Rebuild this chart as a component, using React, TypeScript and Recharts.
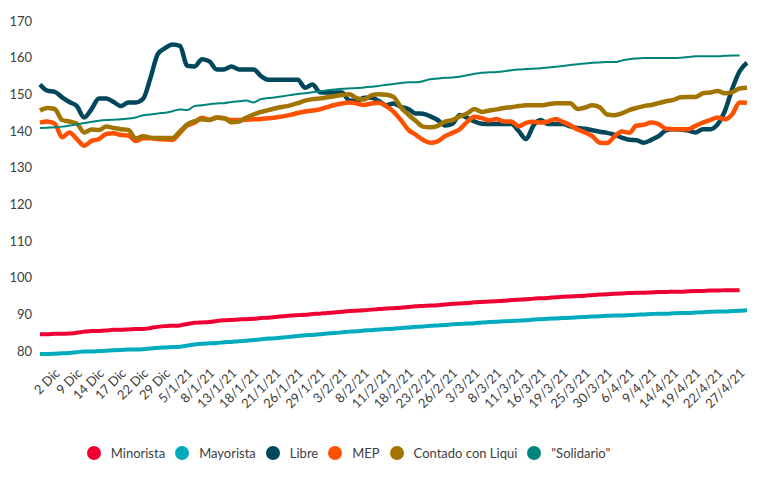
import React from 'react';
import { LineChart, Line, XAxis, YAxis, Legend } from 'recharts';

// etiquetas del eje X (una cada tres ruedas)
const tickLabels = [
	'2 Dic', '9 Dic', '14 Dic', '17 Dic', '22 Dic', '29 Dic', '5/1/21', '8/1/21',
	'13/1/21', '18/1/21', '21/1/21', '26/1/21', '29/1/21', '3/2/21', '8/2/21', '11/2/21',
	'18/2/21', '23/2/21', '26/2/21', '3/3/21', '8/3/21', '11/3/21', '16/3/21', '19/3/21',
	'25/3/21', '30/3/21', '6/4/21', '9/4/21', '14/4/21', '19/4/21', '22/4/21', '27/4/21',
];

const yTicks = [80, 90, 100, 110, 120, 130, 140, 150, 160, 170];

const minorista = [
	84.6, 84.6, 84.7, 84.7, 84.8, 85.0, 85.3, 85.5, 85.5, 85.6,
	85.8, 85.8, 85.9, 86.0, 86.0, 86.3, 86.6, 86.8, 86.9, 87.0,
	87.4, 87.7, 87.8, 87.9, 88.2, 88.4, 88.5, 88.6, 88.7, 88.8,
	89.0, 89.1, 89.3, 89.5, 89.7, 89.8, 89.9, 90.1, 90.2, 90.4,
	90.5, 90.7, 90.9, 91.0, 91.1, 91.3, 91.5, 91.6, 91.7, 91.8,
	92.0, 92.2, 92.3, 92.4, 92.5, 92.7, 92.9, 93.0, 93.1, 93.3,
	93.4, 93.5, 93.6, 93.7, 93.9, 94.0, 94.1, 94.3, 94.4, 94.5,
	94.7, 94.8, 94.9, 95.0, 95.1, 95.3, 95.4, 95.5, 95.6, 95.7,
	95.8, 95.9, 95.9, 96.0, 96.1, 96.1, 96.2, 96.2, 96.3, 96.4,
	96.4, 96.5, 96.5, 96.6, 96.6, 96.6, null,
];

const mayorista = [
	79.2, 79.2, 79.3, 79.4, 79.5, 79.7, 79.9, 79.9, 80.0, 80.1,
	80.2, 80.3, 80.4, 80.4, 80.5, 80.7, 80.9, 81.0, 81.1, 81.2,
	81.5, 81.8, 82.0, 82.1, 82.2, 82.4, 82.5, 82.7, 82.8, 83.0,
	83.2, 83.4, 83.5, 83.7, 83.9, 84.1, 84.3, 84.4, 84.6, 84.8,
	84.9, 85.1, 85.3, 85.4, 85.6, 85.7, 85.9, 86.0, 86.1, 86.3,
	86.4, 86.6, 86.7, 86.9, 87.0, 87.1, 87.3, 87.4, 87.5, 87.6,
	87.8, 87.9, 88.0, 88.1, 88.2, 88.3, 88.4, 88.6, 88.7, 88.8,
	88.9, 89.0, 89.1, 89.2, 89.3, 89.4, 89.5, 89.6, 89.7, 89.7,
	89.8, 89.9, 90.0, 90.1, 90.2, 90.2, 90.3, 90.4, 90.4, 90.5,
	90.6, 90.7, 90.8, 90.8, 90.9, 91.0, 91.1,
];

const libre = [
	152.7, 151.0, 150.7, 149.2, 147.9, 146.8, 143.7, 146.0, 148.9, 148.9,
	147.9, 146.8, 147.8, 147.8, 148.8, 154.5, 161.0, 162.6, 163.6, 163.2,
	157.8, 157.6, 159.6, 159.0, 156.8, 156.8, 157.6, 156.8, 156.8, 156.8,
	155.0, 154.0, 154.0, 154.0, 154.0, 154.0, 151.8, 152.7, 150.6, 150.5,
	150.5, 150.5, 148.3, 148.2, 149.1, 149.1, 148.2, 147.0, 147.5, 146.6,
	146.0, 144.8, 144.7, 144.0, 143.0, 141.5, 142.0, 144.4, 143.6, 142.6,
	142.0, 141.9, 141.9, 141.9, 141.9, 140.0, 137.8, 141.5, 143.0, 141.9,
	141.9, 141.9, 141.3, 140.8, 140.6, 140.2, 139.8, 139.5, 139.0, 138.2,
	137.6, 137.5, 136.8, 137.6, 138.6, 140.2, 140.5, 140.4, 140.1, 139.6,
	140.5, 140.5, 141.8, 145.5, 151.5, 156.3, 158.6,
];

const mep = [
	142.3, 142.6, 142.0, 138.3, 139.6, 137.8, 136.0, 137.3, 137.8, 139.2,
	139.4, 138.9, 138.8, 137.3, 138.0, 138.0, 137.8, 137.7, 137.6, 139.5,
	141.5, 142.3, 143.6, 143.1, 143.7, 143.5, 143.0, 143.0, 143.1, 143.2,
	143.3, 143.5, 143.7, 144.0, 144.4, 144.9, 145.3, 145.6, 145.9, 146.5,
	147.1, 147.5, 147.8, 147.5, 147.1, 147.5, 147.7, 146.8, 145.3, 143.0,
	140.4, 139.0, 137.6, 136.8, 137.2, 138.6, 139.5, 140.5, 142.5, 143.9,
	143.5, 142.9, 143.3, 142.6, 142.6, 141.3, 142.2, 142.5, 142.3, 142.6,
	143.3, 142.5, 141.6, 140.4, 139.6, 138.6, 136.8, 136.7, 138.5, 139.9,
	139.5, 141.5, 141.7, 142.3, 141.9, 140.6, 140.5, 140.5, 140.5, 141.4,
	142.3, 143.0, 143.7, 143.2, 144.6, 147.8, 147.7,
];

const contado = [
	145.6, 146.3, 146.0, 143.0, 142.6, 142.0, 139.6, 140.4, 140.3, 141.2,
	140.8, 140.5, 140.3, 138.0, 138.6, 138.2, 138.1, 138.1, 138.1, 139.9,
	141.8, 142.7, 143.2, 143.0, 143.6, 143.5, 142.4, 142.6, 143.6, 144.5,
	145.2, 145.7, 146.2, 146.6, 147.0, 147.6, 148.3, 148.7, 148.9, 149.2,
	149.5, 149.8, 150.0, 149.0, 148.6, 149.7, 150.0, 149.9, 149.3, 146.5,
	144.5, 142.8, 141.2, 141.0, 141.4, 142.6, 143.0, 144.0, 144.8, 146.0,
	145.2, 145.6, 145.9, 146.3, 146.5, 146.8, 147.0, 147.0, 147.0, 147.3,
	147.6, 147.6, 147.6, 146.0, 146.4, 147.0, 146.5, 144.5, 144.3, 144.8,
	145.7, 146.3, 146.8, 147.1, 147.6, 148.1, 148.5, 149.2, 149.3, 149.3,
	150.3, 150.5, 150.9, 150.3, 150.6, 151.6, 151.8,
];

const solidario = [
	140.8, 140.9, 141.0, 141.2, 141.5, 141.8, 142.2, 142.5, 142.8, 143.0,
	143.1, 143.2, 143.4, 143.7, 144.3, 144.5, 144.8, 145.0, 145.4, 145.9,
	145.7, 146.8, 147.0, 147.3, 147.5, 147.6, 147.9, 148.1, 148.3, 147.8,
	148.7, 149.0, 149.2, 149.5, 149.8, 150.1, 150.3, 150.6, 150.8, 151.1,
	151.3, 151.5, 151.6, 151.7, 151.9, 152.1, 152.3, 152.6, 152.8, 153.1,
	153.3, 153.3, 153.6, 154.1, 154.3, 154.5, 154.6, 154.8, 155.2, 155.6,
	155.9, 156.0, 156.1, 156.3, 156.6, 156.8, 156.9, 157.0, 157.1, 157.3,
	157.5, 157.7, 158.0, 158.2, 158.4, 158.6, 158.7, 158.8, 158.8, 159.2,
	159.6, 159.8, 159.9, 159.9, 159.9, 159.9, 159.9, 160.0, 160.2, 160.4,
	160.4, 160.4, 160.4, 160.5, 160.6, 160.6, null,
];

const series = [
	{ key: 'minorista', name: 'Minorista', color: '#EE0033', width: 4 },
	{ key: 'mayorista', name: 'Mayorista', color: '#00ABBD', width: 4 },
	{ key: 'libre', name: 'Libre', color: '#00475C', width: 4.5 },
	{ key: 'mep', name: 'MEP', color: '#FF5000', width: 4.5 },
	{ key: 'contado', name: 'Contado con Liqui', color: '#A17500', width: 4.5 },
	{ key: 'solidario', name: '"Solidario"', color: '#00857A', width: 2 },
];

const data = libre.map((_, i) => ({
	i,
	minorista: minorista[i],
	mayorista: mayorista[i],
	libre: libre[i],
	mep: mep[i],
	contado: contado[i],
	solidario: solidario[i],
}));

// la primera etiqueta cae en la tercera rueda
const tickIdx = tickLabels.map((_, k) => 2 + k * 3);

const FONT = 'Lato, "Open Sans", sans-serif';
const TEXT = '#404040';

const DateTick = (props: any) => {
	const { x, y, payload } = props;
	const label = tickLabels[(payload.value - 2) / 3];
	const ax = x + 6;
	const ay = y + 12;
	return (
		<text x={ax} y={ay} transform={`rotate(-45, ${ax}, ${ay})`} textAnchor='end' fontSize={13} fill={TEXT} fontFamily={FONT}>
			{label}
		</text>
	);
};

const LegendContent = () => (
	<div style={{ display: 'flex', justifyContent: 'center', paddingRight: 40, fontFamily: FONT, fontSize: 13, color: TEXT, height: 20, alignItems: 'center' }}>
		{series.map((s) => (
			<div key={s.key} style={{ display: 'flex', alignItems: 'center', marginRight: 10 }}>
				<span style={{ width: 14, height: 14, borderRadius: '50%', background: s.color, display: 'inline-block', marginRight: 10 }} />
				<span>{s.name}</span>
			</div>
		))}
	</div>
);

export default function App() {
	return (
		<div style={{ position: 'absolute', left: 0, top: 0, width: 764, height: 477, background: '#fff' }}>
			<LineChart width={764} height={477} data={data} margin={{ top: 21, right: 17, left: 0, bottom: 14 }}>
				<XAxis
					type='number'
					dataKey='i'
					domain={[0, 96]}
					ticks={tickIdx}
					interval={0}
					tick={<DateTick />}
					axisLine={false}
					tickLine={false}
					height={89}
				/>
				<YAxis
					domain={[80, 170]}
					ticks={yTicks}
					axisLine={false}
					tickLine={false}
					width={40}
					tick={{ fontSize: 13, fill: TEXT, fontFamily: FONT }}
				/>
				<Legend verticalAlign='bottom' content={<LegendContent />} />
				{series.map((s) => (
					<Line
						key={s.key}
						type='monotone'
						dataKey={s.key}
						name={s.name}
						stroke={s.color}
						strokeWidth={s.width}
						dot={false}
						activeDot={false}
						connectNulls={false}
						isAnimationActive={false}
					/>
				))}
			</LineChart>
		</div>
	);
}
